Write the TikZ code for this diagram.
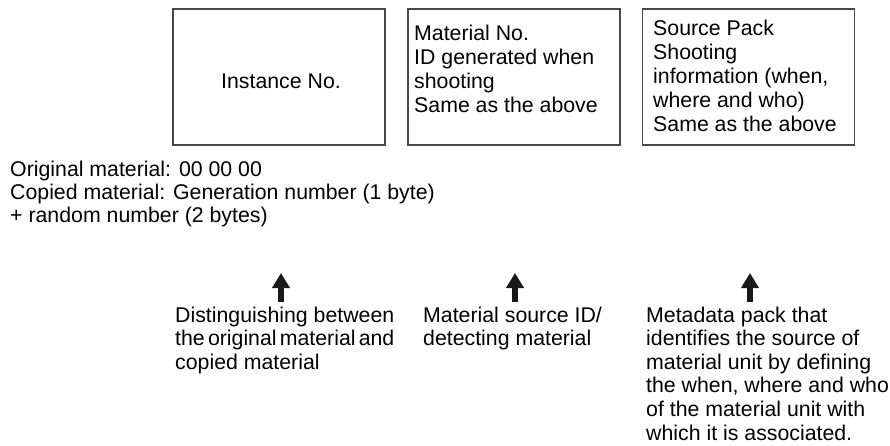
\documentclass[tikz,border=0pt]{standalone}
\usepackage{fontspec}
\setmainfont{Liberation Sans}
\usetikzlibrary{arrows.meta}
\begin{document}
\begin{tikzpicture}[x=1pt,y=-1pt,
  box/.style={draw=black!72, line width=1.4pt, minimum width=212pt, minimum height=136pt, inner sep=0pt},
  boxtxt/.style={anchor=base west, inner sep=0pt, align=left, font=\fontsize{21.3}{24.2}\selectfont},
  midtxt/.style={anchor=base, inner sep=0pt, font=\fontsize{21.3}{24.2}\selectfont},
  notetxt/.style={anchor=base west, inner sep=0pt, align=left, font=\fontsize{21.3}{23}\selectfont},
  lbl/.style={anchor=base west, inner sep=0pt, align=left, font=\fontsize{21.3}{23.6}\selectfont},
  uparrow/.style={line width=6pt, draw=black!90, -{Triangle[width=17pt,length=15pt]}}]
\useasboundingbox (0,0) rectangle (890,445);
% boxes
\node[box] (b1) at (279,77) {};
\node[box] (b2) at (514,77) {};
\node[box] (b3) at (748.5,77) {};
% box texts (anchor = baseline of the last line)
\node[midtxt] (t1) at (281,88) {Instance No.};
\node[boxtxt] (t2) at (414,112.6) {Material No.\\ID generated when\\shooting\\Same as the above};
\node[boxtxt] (t3) at (653,131.8) {Source Pack\\Shooting\\information (when,\\where and who)\\Same as the above};
% note
\node[notetxt] (note) at (10,222) {Original material: 00 00 00\\Copied material: Generation number (1 byte)\\+ random number (2 bytes)};
% labels
\node[lbl] (l1) at (175,369.2) {Distinguishing between\\{\spaceskip=3.2pt the original material and}\\copied material};
\node[lbl] (l2) at (423,345.6) {Material source ID/\\detecting material};
\node[lbl] (l3) at (646,440) {Metadata pack that\\identifies the source of\\material unit by defining\\the when, where and who\\of the material unit with\\which it is associated.};
% arrows
\coordinate (a1s) at (281,302);
\coordinate (a1e) at (281,273);
\coordinate (a2s) at (515,302);
\coordinate (a2e) at (515,273);
\coordinate (a3s) at (750,302);
\coordinate (a3e) at (750,273);
\draw[uparrow] (a1s) -- (a1e);
\draw[uparrow] (a2s) -- (a2e);
\draw[uparrow] (a3s) -- (a3e);
\end{tikzpicture}
\end{document}
